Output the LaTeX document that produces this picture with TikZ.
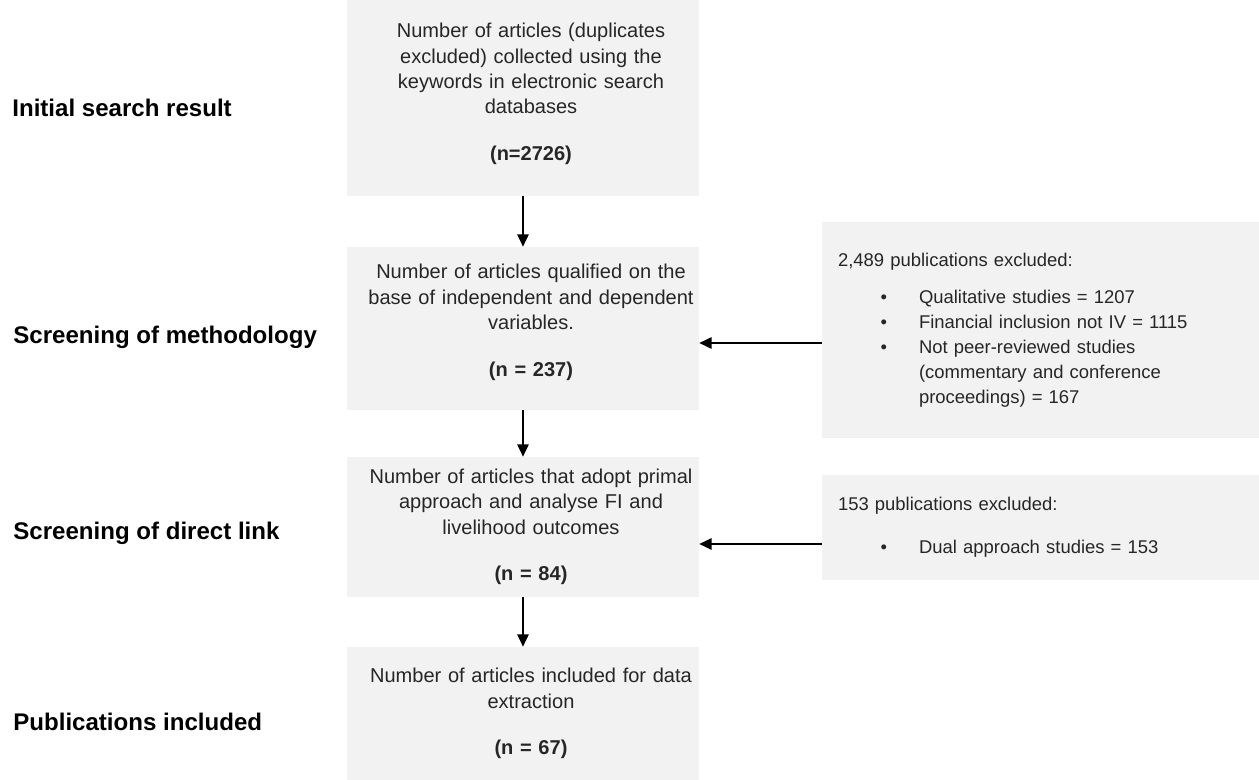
\documentclass[tikz,border=0pt]{standalone}
\usepackage{fontspec}
\setmainfont{Liberation Sans}
\usepackage{tikz}
\usetikzlibrary{arrows.meta}

\definecolor{boxgray}{RGB}{242,242,242}
\newcommand{\bul}{\hspace*{0.85cm}\makebox[0.77cm][l]{\textbullet}}
\newcommand{\cont}{\hspace*{1.62cm}}

\begin{document}
\begin{tikzpicture}
[x=0.02cm,y=-0.02cm
,sbox/.style={fill=boxgray,draw=none,minimum width=7.04cm,text width=7.04cm,align=center
  ,inner xsep=0pt,inner ysep=0pt,text=black!85,font=\fontsize{11.4pt}{14.5pt}\selectfont
  ,execute at begin node={\leftskip=0.32cm plus 1fil\rightskip=0pt plus 1fil\parfillskip=0pt}}
,lift/.style={execute at end node={\rule[-#1]{0pt}{#1}}}
,xbox/.style={fill=boxgray,draw=none,minimum width=8.74cm,text width=8.1cm,align=left
  ,inner xsep=0.32cm,inner ysep=0pt,text=black!85,font=\fontsize{10.5pt}{14.2pt}\selectfont}
,stage/.style={anchor=west,inner sep=0pt,font=\fontsize{13.7pt}{16pt}\selectfont\bfseries}
,be/.style={line width=0.85pt,arrows={-Triangle[length=7pt,width=6.5pt]}}]
\useasboundingbox (0,0) rectangle (1259,780);

% stage labels
\node[stage] (lab1) at (12,108) {Initial search result};
\node[stage] (lab2) at (13,337) {Screening of methodology};
\node[stage] (lab3) at (13,533) {Screening of direct link};
\node[stage] (lab4) at (13,722) {Publications included};

% main flow
\node[sbox,lift=0.25cm,minimum height=3.92cm] (init) at (523,98)
  {Number of articles (duplicates\\excluded) collected using the\\keywords in electronic search\\databases\\[0.42cm]\textbf{(n=2726)}};
\node[sbox,lift=0.33cm,minimum height=3.26cm] (meth) at (523,328.5)
  {Number of articles qualified on the\\base of independent and dependent\\variables.\\[0.42cm]\textbf{(n = 237)}};
\node[sbox,minimum height=2.8cm] (direct) at (523,527)
  {Number of articles that adopt primal\\approach and analyse FI and\\livelihood outcomes\\[0.42cm]\textbf{(n = 84)}};
\node[sbox,minimum height=2.66cm] (incl) at (523,713.5)
  {Number of articles included for data\\extraction\\[0.42cm]\textbf{(n = 67)}};

% exclusions
\node[xbox,minimum height=4.32cm] (excl1) at (1040.5,330)
  {2,489 publications excluded:\\[0.24cm]
   \bul Qualitative studies = 1207\\
   \bul Financial inclusion not IV = 1115\\
   \bul Not peer-reviewed studies\\
   \cont(commentary and conference\\
   \cont proceedings) = 167};
\node[xbox,minimum height=2.1cm] (excl2) at (1040.5,527.5)
  {153 publications excluded:\\[0.36cm]
   \bul Dual approach studies = 153};

\draw[be] (init) -- (meth);
\draw[be] (meth) -- (direct);
\draw[be] (direct) -- (incl);
\draw[be] (excl1.west |- 0,343) -- (meth.east |- 0,343);
\draw[be] (excl2.west |- 0,544) -- (direct.east |- 0,544);
\end{tikzpicture}
\end{document}
